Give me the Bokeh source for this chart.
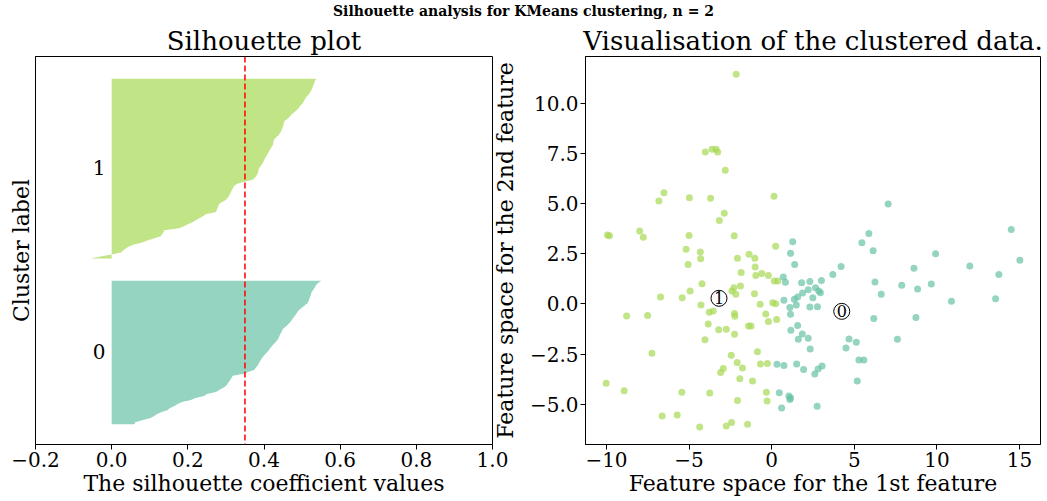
import numpy as np
from bokeh.plotting import figure
from bokeh.models import Range1d, FixedTicker, Span, Label, Div, CustomJSTickFormatter
from bokeh.layouts import row, column
from bokeh.embed import file_html
from bokeh.resources import INLINE
from bokeh.core.properties import value

SERIF = "DejaVu Serif"

# ---------------- data ----------------
suptitle = "Silhouette analysis for KMeans clustering, n = 2"
cluster_ids = [0, 1]
cluster_colors = ["#66c2a5", "#a6d854"]
avg_silhouette = 0.35

sil_cluster0 = [0.060, 0.062, 0.080, 0.100, 0.111, 0.118, 0.130, 0.146, 0.152, 0.165,
                0.173, 0.185, 0.208, 0.220, 0.243, 0.250, 0.274, 0.282, 0.292, 0.300,
                0.304, 0.308, 0.312, 0.315, 0.318, 0.348, 0.360, 0.375, 0.378, 0.383,
                0.386, 0.389, 0.392, 0.396, 0.400, 0.405, 0.410, 0.414, 0.418, 0.422,
                0.427, 0.432, 0.436, 0.439, 0.441, 0.444, 0.447, 0.449, 0.455, 0.461,
                0.466, 0.471, 0.474, 0.478, 0.482, 0.486, 0.489, 0.495, 0.502, 0.508,
                0.515, 0.517, 0.519, 0.521, 0.523, 0.524, 0.527, 0.531, 0.534, 0.537,
                0.543, 0.550]
sil_cluster1 = [-0.055, -0.029, 0.000, 0.024, 0.030, 0.037, 0.045, 0.059, 0.080, 0.094,
                0.110, 0.129, 0.132, 0.136, 0.138, 0.177, 0.190, 0.200, 0.212, 0.221,
                0.230, 0.240, 0.247, 0.274, 0.276, 0.278, 0.280, 0.282, 0.290, 0.300,
                0.304, 0.308, 0.311, 0.313, 0.316, 0.319, 0.322, 0.330, 0.348, 0.370,
                0.376, 0.380, 0.383, 0.385, 0.386, 0.388, 0.392, 0.396, 0.399, 0.401,
                0.404, 0.407, 0.410, 0.413, 0.416, 0.419, 0.423, 0.424, 0.425, 0.427,
                0.432, 0.438, 0.442, 0.445, 0.447, 0.449, 0.451, 0.452, 0.453, 0.460,
                0.466, 0.471, 0.477, 0.483, 0.489, 0.493, 0.497, 0.502, 0.505, 0.508,
                0.511, 0.516, 0.520, 0.524, 0.526, 0.528, 0.530, 0.532, 0.534, 0.537]

x_cluster1 = [-2.15, -4.02, -3.61, -3.37, -3.27, -2.81, -6.52, -6.83, -4.98, -3.70,
              0.14, -2.87, -3.17, -9.94, -9.82, -7.99, -7.77, -5.00, -2.27, 0.24,
              -5.18, -4.32, -4.30, -1.37, -1.02, -2.07, -5.06, -1.85, -1.00, -0.96,
              -0.60, -0.20, 0.16, 0.36, -4.22, -6.73, -5.42, -4.94, -2.41, -2.29,
              -1.89, -2.17, -1.04, -4.28, -3.78, -3.54, -2.25, -2.23, -3.84, -3.21,
              -2.75, -2.25, -4.04, -1.40, -1.25, -0.70, 0.06, 0.24, -0.36, -0.20,
              0.30, -8.78, -7.51, -0.86, -7.25, -2.45, -2.09, -1.77, -2.93, -3.09,
              -0.68, -0.26, -1.93, -1.16, -10.02, -8.93, -5.44, -3.75, -0.32, -0.28,
              -2.07, -6.63, -5.72, -4.36, -2.75, -2.43, -1.46]
y_cluster1 = [11.44, 7.56, 7.70, 7.70, 7.56, 6.65, 5.54, 5.12, 5.29, 5.26,
              5.36, 4.51, 4.15, 3.43, 3.40, 3.63, 3.32, 3.41, 3.40, 2.87,
              2.72, 2.58, 2.25, 2.47, 2.28, 2.27, 1.96, 1.57, 1.84, 1.41,
              1.51, 1.42, 1.14, 1.14, 1.01, 0.34, 0.31, 0.64, 0.64, 0.81,
              0.89, 0.48, 0.51, -0.05, -0.42, -0.35, -0.48, -0.62, -1.00, -1.28,
              -1.26, -1.51, -1.78, -1.10, -1.10, -0.02, 0.06, 0.01, -0.50, -0.87,
              -0.77, -0.60, -0.58, -2.38, -2.46, -2.56, -2.92, -3.19, -3.21, -3.42,
              -2.99, -2.97, -3.72, -3.84, -3.95, -4.32, -4.40, -4.43, -4.40, -4.83,
              -4.81, -5.58, -5.53, -6.13, -6.08, -5.91, -5.99]

x_cluster0 = [1.27, 1.14, 1.39, 0.70, 0.83, 1.81, 2.31, 3.01, 3.70, 2.65,
              2.85, 2.95, 2.21, 1.87, 1.57, 1.37, 0.74, 2.49, 1.49, 1.10,
              2.31, 2.77, 1.14, 1.16, 1.57, 1.85, 1.61, 2.21, 2.33, 0.32,
              0.74, 1.51, 1.93, 2.61, 2.81, 3.05, 0.46, 1.04, 1.10, 1.14,
              0.60, 2.75, 7.05, 5.88, 5.46, 6.14, 9.92, 14.50, 15.02, 4.20,
              8.61, 11.99, 13.75, 6.25, 6.63, 7.87, 8.83, 9.66, 10.88, 13.55,
              6.18, 8.73, 7.61, 4.68, 4.50, 5.12, 5.28, 5.58, 5.18]
y_cluster0 = [3.10, 2.52, 1.96, 1.34, 1.08, 1.06, 1.12, 1.17, 1.46, 0.81,
              0.64, 0.56, 0.71, 0.54, 0.34, 0.23, 0.18, 0.31, -0.05, -0.18,
              -0.15, -0.14, -0.52, -1.31, -1.08, -1.50, -1.76, -1.71, -2.24, -3.01,
              -3.07, -2.99, -3.27, -3.49, -3.24, -3.09, -4.42, -4.58, -4.76, -4.67,
              -5.18, -5.10, 4.97, 3.51, 3.05, 2.65, 2.50, 3.70, 2.17, 1.86,
              1.77, 1.89, 1.46, 1.09, 0.48, 0.93, 0.74, 0.99, 0.13, 0.26,
              -0.73, -0.67, -1.76, -1.75, -2.19, -1.91, -2.79, -2.79, -3.84]

centers_x = [4.24, -3.19]
centers_y = [-0.37, 0.28]

# ---------------- styling helpers ----------------
def style_axis(ax):
    ax.axis_line_color = "black"
    ax.major_tick_line_color = "black"
    ax.minor_tick_line_color = None
    ax.major_tick_in = 0
    ax.major_tick_out = 5
    ax.major_label_text_font = SERIF
    ax.major_label_text_font_size = "20px"
    ax.major_label_text_color = "black"
    ax.axis_label_text_font = SERIF
    ax.axis_label_text_font_size = "22px"
    ax.axis_label_text_font_style = "normal"
    ax.axis_label_text_color = "black"
    ax.major_label_standoff = 2
    ax.axis_label_standoff = 1


def style(p):
    p.xgrid.visible = False
    p.ygrid.visible = False
    p.outline_line_color = "black"
    p.outline_line_alpha = 1.0
    p.outline_line_width = 1
    p.title.text_font = SERIF
    p.title.text_font_size = "26px"
    p.title.text_font_style = "normal"
    p.title.align = "center"
    p.title.text_color = "black"
    p.title.standoff = 2
    for ax in [p.xaxis[0], p.yaxis[0]]:
        style_axis(ax)

fmt1 = CustomJSTickFormatter(code="return (tick < -1e-9 ? '\u2212' : '') + Math.abs(tick).toFixed(1);")
fmt0 = CustomJSTickFormatter(code="return (tick < -1e-9 ? '\u2212' : '') + Math.abs(tick).toFixed(0);")

HEAD_H = 22
FIG_H = 501 - HEAD_H
P1_W = 527
OVERLAP = 38          # right panel's canvas slides under the left panel's right margin

# ---------------- left: silhouette plot ----------------
n_samples = len(sil_cluster0) + len(sil_cluster1)
y_top = n_samples + (len(cluster_ids) + 1) * 10
p1 = figure(width=P1_W, height=FIG_H, x_range=Range1d(-0.2, 1.0),
            y_range=Range1d(0, y_top),
            output_backend="svg", toolbar_location=None, title="Silhouette plot",
            min_border_left=35, min_border_right=35, min_border_top=34, min_border_bottom=57)
style(p1)

y_lower = 10
for cid, vals, col in zip(cluster_ids, [sil_cluster0, sil_cluster1], cluster_colors):
    v = np.sort(np.array(vals))
    size = len(v)
    yy = np.arange(y_lower, y_lower + size)
    p1.harea(x1=np.zeros(size), x2=v, y=yy, fill_color=col, fill_alpha=0.7)
    p1.add_layout(Label(x=-0.05, y=y_lower + 0.5 * size, text=str(cid),
                        text_font=SERIF, text_font_size="20px",
                        text_align="left", text_baseline="alphabetic", text_color="black"))
    y_lower += size + 10

p1.add_layout(Span(location=avg_silhouette, dimension="height", line_color="red",
                   line_dash="6 3", line_width=1.5))
p1.xaxis.ticker = FixedTicker(ticks=[-0.2, 0.0, 0.2, 0.4, 0.6, 0.8, 1.0])
p1.xaxis.formatter = fmt1
p1.xaxis.axis_label = "The silhouette coefficient values"
p1.yaxis.ticker = FixedTicker(ticks=[])
p1.yaxis.major_tick_out = 0
p1.yaxis.major_label_standoff = 0
p1.yaxis.axis_label_standoff = 2
p1.yaxis.axis_label = "Cluster label"

# ---------------- right: scatter ----------------
P2_W = 1047 - P1_W + OVERLAP
p2 = figure(width=P2_W, height=FIG_H, x_range=Range1d(-11.27, 16.27), y_range=Range1d(-7.0, 12.32),
            output_backend="svg", toolbar_location=None,
            title="Visualisation of the clustered data.",
            min_border_left=P2_W - 457 - 7, min_border_right=7, min_border_top=34, min_border_bottom=57,
            margin=(0, 0, 0, -OVERLAP))
style(p2)
p2.border_fill_color = None
p2.scatter(x_cluster1, y_cluster1, size=7, fill_color=cluster_colors[1], fill_alpha=0.7, line_color=None)
p2.scatter(x_cluster0, y_cluster0, size=7, fill_color=cluster_colors[0], fill_alpha=0.7, line_color=None)
p2.scatter(centers_x, centers_y, size=16, fill_color="white", line_color="black", line_width=1)
p2.text(centers_x, centers_y, text=[str(c) for c in cluster_ids], text_font=value(SERIF),
        text_font_size="16px", text_align="center", text_baseline="middle", text_color="black")
p2.xaxis.ticker = FixedTicker(ticks=[-10, -5, 0, 5, 10, 15])
p2.xaxis.formatter = fmt0
p2.xaxis.axis_label = "Feature space for the 1st feature"
p2.yaxis.ticker = FixedTicker(ticks=[-5.0, -2.5, 0.0, 2.5, 5.0, 7.5, 10.0])
p2.yaxis.formatter = fmt1
p2.yaxis.axis_label = "Feature space for the 2nd feature"
p2.yaxis.axis_label_standoff = 9

header = Div(text=suptitle, width=1047, height=HEAD_H, margin=(0, 0, 0, 0),
             styles={"text-align": "center", "font-family": SERIF, "font-weight": "bold",
                     "font-size": "14px", "line-height": "22px", "color": "black"})

layout = column(header, row(p1, p2))
open("out.html", "w").write(file_html(layout, INLINE))
